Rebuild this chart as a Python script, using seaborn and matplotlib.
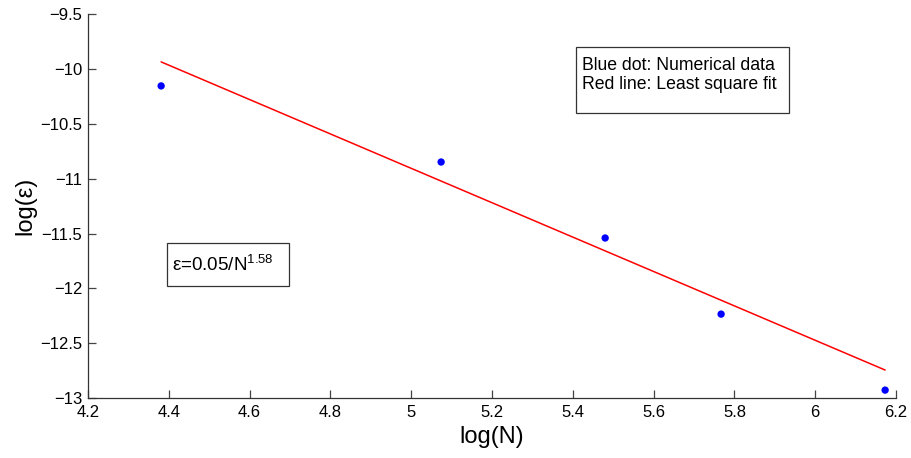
import numpy as np
import pandas as pd
import matplotlib
matplotlib.use("Agg")
import matplotlib.pyplot as plt
import matplotlib.patches as patches
import seaborn as sns

# =================== DATA ===================

log_n = [4.381, 5.074, 5.480, 5.767, 6.173]
log_eps = [-10.154, -10.848, -11.541, -12.235, -12.928]

# least square fit line, read at its two end points
fit_x = [4.381, 6.173]
fit_y = [-9.935, -12.745]

x_ticks = [4.2, 4.4, 4.6, 4.8, 5.0, 5.2, 5.4, 5.6, 5.8, 6.0, 6.2]
x_tick_labels = ['4.2', '4.4', '4.6', '4.8', '5', '5.2', '5.4', '5.6', '5.8', '6', '6.2']
y_ticks = [-13, -12.5, -12, -11.5, -11, -10.5, -10, -9.5]
y_tick_labels = ['\u221213', '\u221212.5', '\u221212', '\u221211.5', '\u221211', '\u221210.5', '\u221210', '\u22129.5']

legend_lines = ['Blue dot: Numerical data', 'Red line: Least square fit']
formula_text = r'ε=0.05/N$^{\mathrm{1.58}}$'

# =================== PLOT ===================

sns.set_style("white")
plt.rcParams['font.family'] = ['Liberation Sans', 'DejaVu Sans']
plt.rcParams['mathtext.fontset'] = 'custom'
plt.rcParams['mathtext.rm'] = 'Liberation Sans'
plt.rcParams['mathtext.it'] = 'Liberation Sans:italic'
plt.rcParams['text.color'] = 'black'
plt.rcParams['axes.labelcolor'] = 'black'

df = pd.DataFrame({'log_n': log_n, 'log_eps': log_eps})
df_fit = pd.DataFrame({'x': fit_x, 'y': fit_y})

fig = plt.figure(figsize=(9.12, 4.58), dpi=100)
ax = fig.add_axes([0.0965, 0.131, 0.886, 0.838])

sns.lineplot(data=df_fit, x='x', y='y', color='#ff0000', linewidth=1.1, ax=ax)
sns.scatterplot(data=df, x='log_n', y='log_eps', color='#0000ff', s=28,
                edgecolor='none', ax=ax, zorder=3)

ax.set_xlim(4.2, 6.2)
ax.set_ylim(-13, -9.5)
ax.set_xticks(x_ticks)
ax.set_xticklabels(x_tick_labels)
ax.set_yticks(y_ticks)
ax.set_yticklabels(y_tick_labels)
ax.tick_params(bottom=True, left=True, direction='in', length=5.5, width=0.9,
               color='#444444', labelsize=12, labelcolor='black')
ax.tick_params(axis='x', pad=5)
ax.tick_params(axis='y', pad=4)

for side in ['top', 'right']:
    ax.spines[side].set_visible(False)
for side in ['left', 'bottom']:
    ax.spines[side].set_color('#333333')
    ax.spines[side].set_linewidth(0.9)

ax.set_xlabel('log(N)', fontsize=17, labelpad=4)
ax.set_ylabel('log(ε)', fontsize=17, labelpad=3)

# legend box
ax.add_patch(patches.Rectangle((0.604, 0.742), 0.264, 0.172, transform=ax.transAxes,
                               fill=False, edgecolor='#333333', linewidth=0.9))
ax.text(0.611, 0.866, legend_lines[0], transform=ax.transAxes, fontsize=12.7,
        va='center', ha='left')
ax.text(0.611, 0.816, legend_lines[1], transform=ax.transAxes, fontsize=12.7,
        va='center', ha='left')

# formula box
ax.add_patch(patches.Rectangle((0.0978, 0.2917), 0.151, 0.112, transform=ax.transAxes,
                               fill=False, edgecolor='#333333', linewidth=0.9))
ax.text(0.104, 0.346, formula_text, transform=ax.transAxes, fontsize=13.5,
        va='center', ha='left')

fig.savefig('out.png', dpi=100)
plt.close(fig)
